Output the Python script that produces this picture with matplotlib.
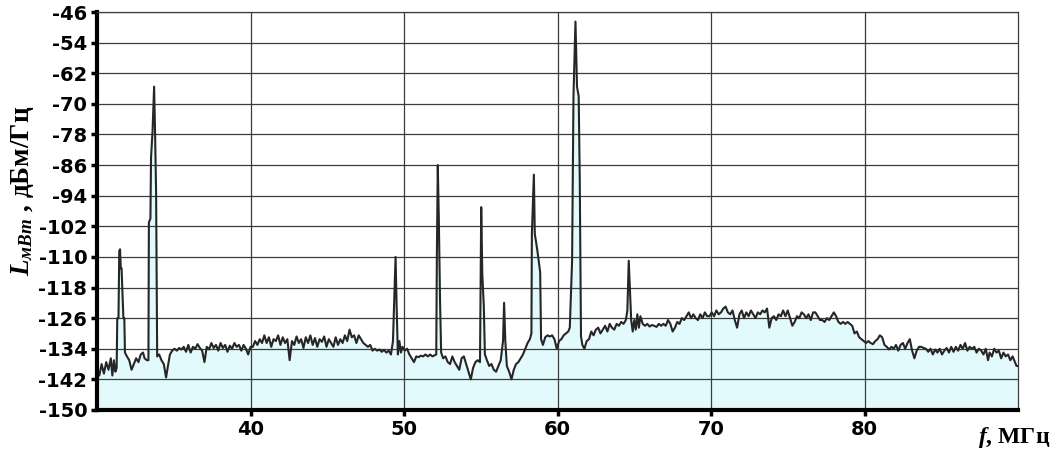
import matplotlib.pyplot as plt
import numpy as np

plt.rcParams['mathtext.fontset'] = 'custom'
plt.rcParams['mathtext.it'] = 'Liberation Serif:italic:bold'
plt.rcParams['mathtext.rm'] = 'Liberation Serif:bold'
plt.rcParams['axes.unicode_minus'] = False

# spectrum: frequency (MHz) and level (dBm/Hz)
freq = [
    30.0, 30.15, 30.3, 30.45, 30.6, 30.75, 30.9, 31.0, 31.1, 31.2, 31.28, 31.32, 31.4, 31.45, 31.5,
    31.55, 31.6, 31.72, 31.78, 31.82, 31.95, 32.1, 32.25, 32.4, 32.55, 32.7, 32.85, 33.0, 33.1, 33.25,
    33.35, 33.38, 33.48, 33.52, 33.62, 33.72, 33.78, 33.85, 33.92, 34.05, 34.2, 34.35, 34.5, 34.6, 34.75,
    34.9, 35.05, 35.2, 35.35, 35.5, 35.65, 35.8, 35.95, 36.1, 36.25, 36.4, 36.55, 36.7, 36.85, 37.0,
    37.15, 37.3, 37.45, 37.6, 37.75, 37.9, 38.05, 38.2, 38.35, 38.5, 38.65, 38.8, 38.95, 39.1, 39.25,
    39.4, 39.55, 39.7, 39.85, 40.0, 40.15, 40.3, 40.45, 40.6, 40.75, 40.9, 41.05, 41.2, 41.35, 41.5,
    41.65, 41.8, 41.95, 42.1, 42.25, 42.4, 42.55, 42.7, 42.85, 43.0, 43.15, 43.3, 43.45, 43.6, 43.75,
    43.9, 44.05, 44.2, 44.35, 44.5, 44.65, 44.8, 44.95, 45.1, 45.25, 45.4, 45.55, 45.7, 45.85, 46.0,
    46.15, 46.3, 46.45, 46.6, 46.75, 46.9, 47.05, 47.2, 47.35, 47.5, 47.65, 47.8, 47.95, 48.1, 48.25,
    48.4, 48.55, 48.7, 48.85, 49.0, 49.15, 49.28, 49.35, 49.45, 49.52, 49.6, 49.7, 49.8, 49.9, 50.05,
    50.2, 50.35, 50.5, 50.65, 50.8, 50.95, 51.1, 51.25, 51.4, 51.55, 51.7, 51.85, 52.1, 52.14, 52.2,
    52.27, 52.35, 52.42, 52.55, 52.7, 52.85, 53.0, 53.15, 53.3, 53.45, 53.6, 53.75, 53.9, 54.05, 54.2,
    54.35, 54.5, 54.65, 54.8, 54.95, 55.03, 55.1, 55.2, 55.27, 55.4, 55.55, 55.7, 55.85, 56.0, 56.15,
    56.3, 56.45, 56.52, 56.6, 56.7, 56.85, 57.0, 57.15, 57.3, 57.45, 57.6, 57.75, 57.9, 58.05, 58.2,
    58.3, 58.33, 58.46, 58.52, 58.6, 58.71, 58.87, 58.93, 59.05, 59.2, 59.35, 59.5, 59.65, 59.8, 59.95,
    60.1, 60.25, 60.4, 60.55, 60.7, 60.8, 60.95, 61.04, 61.17, 61.27, 61.38, 61.45, 61.53, 61.62, 61.75,
    61.9, 62.05, 62.2, 62.35, 62.5, 62.65, 62.8, 62.95, 63.1, 63.25, 63.4, 63.55, 63.7, 63.85, 64.0,
    64.15, 64.3, 64.45, 64.55, 64.64, 64.7, 64.8, 64.9, 65.0, 65.1, 65.2, 65.3, 65.4, 65.55, 65.7,
    65.85, 66.0, 66.15, 66.3, 66.45, 66.6, 66.75, 66.9, 67.05, 67.2, 67.35, 67.5, 67.65, 67.8, 67.95,
    68.1, 68.25, 68.4, 68.55, 68.7, 68.85, 69.0, 69.15, 69.3, 69.45, 69.6, 69.75, 69.9, 70.05, 70.2,
    70.35, 70.5, 70.65, 70.8, 70.95, 71.1, 71.25, 71.4, 71.55, 71.7, 71.85, 72.0, 72.15, 72.3, 72.45,
    72.6, 72.75, 72.9, 73.05, 73.2, 73.35, 73.5, 73.65, 73.8, 73.95, 74.1, 74.25, 74.4, 74.55, 74.7,
    74.85, 75.0, 75.15, 75.3, 75.45, 75.6, 75.75, 75.9, 76.05, 76.2, 76.35, 76.5, 76.65, 76.8, 76.95,
    77.1, 77.25, 77.4, 77.55, 77.7, 77.85, 78.0, 78.15, 78.3, 78.45, 78.6, 78.75, 78.9, 79.05, 79.2,
    79.35, 79.5, 79.65, 79.8, 79.95, 80.1, 80.25, 80.4, 80.55, 80.7, 80.85, 81.0, 81.15, 81.3, 81.45,
    81.6, 81.75, 81.9, 82.05, 82.2, 82.35, 82.5, 82.65, 82.8, 82.95, 83.1, 83.25, 83.4, 83.55, 83.7,
    83.85, 84.0, 84.15, 84.3, 84.45, 84.6, 84.75, 84.9, 85.05, 85.2, 85.35, 85.5, 85.65, 85.8, 85.95,
    86.1, 86.25, 86.4, 86.55, 86.7, 86.85, 87.0, 87.15, 87.3, 87.45, 87.6, 87.75, 87.9, 88.05, 88.15,
    88.3, 88.45, 88.6, 88.75, 88.9, 89.05, 89.2, 89.35, 89.5, 89.65, 89.8, 89.9, 90.0,
]
level = [
    -139.5, -141, -138, -140.5, -137.5, -139.5, -136.5, -141, -137, -140, -139, -126, -126, -108.5, -108,
    -113, -113, -126, -126, -135, -136, -137, -139.5, -138, -136.5, -137.5, -135.5, -135, -136.5, -137,
    -137, -101, -100, -84, -77, -65.5, -77, -93, -136, -135.5, -137, -138, -141.5, -139, -135.5,
    -134.5, -134, -134.5, -133.8, -134.2, -133.5, -134.8, -133, -135, -133.5, -134, -132.8, -133.8, -134.5, -137.5,
    -133.5, -134.2, -132.5, -133.8, -133, -134.5, -132.5, -133.8, -133, -134.8, -133.2, -134, -132.5, -133.5, -133,
    -134.5, -133, -134, -135.5, -133.5, -133.5, -132, -133, -131.5, -132.5, -130.5, -132.5, -131, -133.5, -131.5,
    -132, -130.5, -133, -131, -132.5, -131.5, -137, -132, -133, -130.8, -132.5, -131.5, -133.8, -131, -132.5,
    -130.5, -133, -131.2, -133.5, -131.5, -132.2, -130.8, -133.5, -131.5, -132.5, -133.5, -131, -133, -131.5, -132.5,
    -130.5, -132, -129, -131, -130.5, -132.5, -130.5, -131.5, -132.5, -133, -133.5, -133, -134.5, -134, -134.5,
    -134.2, -134.8, -134.3, -135, -134.5, -135.5, -132, -123, -110, -123, -135.5, -132, -135, -133.5, -134.5,
    -134, -135.5, -136.5, -137.5, -136, -136.2, -135.8, -136, -135.5, -136, -135.5, -136, -135.5, -110, -86,
    -100.5, -122, -135, -136.5, -136, -137.5, -138, -136, -137.5, -138.5, -139.5, -136.5, -136, -138, -140,
    -142, -139, -137.5, -137, -137.5, -97, -114.5, -123, -135.5, -137, -138.5, -138, -139.5, -140, -138.5,
    -137, -132, -122, -132, -138.5, -140, -142, -139.5, -138, -137.5, -136.5, -135.5, -134, -132.5, -131.5,
    -130, -104, -88.5, -104, -106, -109, -114, -131.5, -133, -131, -130.5, -130.8, -130.5, -131.5, -134,
    -132, -131.5, -130.5, -130, -129.5, -128.5, -111, -68, -48.5, -65.5, -68, -90, -130.8, -133, -134,
    -132, -131.5, -129.5, -130.5, -129, -128.5, -130, -129, -128, -129.5, -127.5, -128.5, -129, -127.5, -128,
    -127, -127.5, -126.5, -124, -111, -117, -126.5, -129.5, -126.5, -129, -125, -128.5, -125.5, -127.5, -128,
    -127.5, -128.2, -127.8, -128, -128.3, -127.5, -128, -127.5, -128, -126.5, -127.5, -129.5, -128.5, -127, -127.5,
    -126, -126.5, -125.5, -124.5, -126, -125, -126, -126.5, -125, -126, -124.5, -125.5, -125.5, -124.5, -125.5,
    -124, -125, -124.5, -123.5, -123, -124.5, -125, -124, -126.5, -128.5, -125, -124, -126, -124.5, -125.5,
    -124, -125, -126, -124.5, -125, -124, -124.5, -123.5, -128.5, -126, -125.5, -126.5, -125, -125.5, -124,
    -125.5, -124, -126, -128, -127, -125.5, -126, -124.5, -125, -126, -125, -126.5, -124.5, -124.5, -125.5,
    -126.5, -126.5, -127, -126, -126.5, -125.5, -124.5, -125.5, -127, -127.5, -127, -127.5, -127, -127.5, -128,
    -130, -129.5, -131, -131.5, -132, -132.5, -132, -132.5, -132.8, -132, -131.5, -130.5, -131, -133, -133.5,
    -134.2, -133.5, -134, -133, -134.5, -133, -132.5, -134, -132.5, -131.5, -134.5, -136.5, -134.5, -133.5, -133.5,
    -133.8, -134, -134.8, -134, -135.5, -134.2, -135, -134, -135.5, -134.5, -133.8, -135, -133.5, -134.8, -133.5,
    -134.5, -133, -134, -132.5, -134.5, -133.5, -134, -133.5, -135, -134, -134.5, -135.5, -134, -137, -135,
    -136, -134, -135, -134.5, -136.5, -135, -136, -135.5, -137, -136, -137.5, -138.5, -138.5,
]

y_ticks = list(range(-150, -45, 8))
x_ticks = [40, 50, 60, 70, 80]

fig = plt.figure(figsize=(10.59, 4.53), dpi=100)
ax = fig.add_axes([0.0916, 0.095, 0.8697, 0.8785])

ax.fill_between(freq, -150, level, color='#e2fafc', linewidth=0)
ax.plot(freq, level, color='#262626', linewidth=1.5)

ax.set_xlim(30, 90)
ax.set_ylim(-150, -46)
ax.set_xticks(x_ticks)
ax.set_yticks(y_ticks)
ax.grid(True, color='#3c3c3c', linewidth=0.9)

for lab in ax.get_xticklabels() + ax.get_yticklabels():
    lab.set_family('DejaVu Sans')
    lab.set_fontweight('bold')
    lab.set_fontsize(14)
ax.tick_params(axis='both', direction='out', length=4, width=2.5, color='black', pad=3)

for side in ['left', 'bottom']:
    ax.spines[side].set_linewidth(3)
    ax.spines[side].set_color('black')
for side in ['top', 'right']:
    ax.spines[side].set_linewidth(0.9)
    ax.spines[side].set_color('#3c3c3c')

ax.set_ylabel('$L_{мВт}$ , дБм/Гц', family='Liberation Serif', fontweight='bold', fontsize=19.5)
ax.yaxis.set_label_coords(-0.066, 0.55)
fig.text(978 / 1059, 1 - 437 / 453, '$f$, МГц', family='Liberation Serif', fontweight='bold',
         fontsize=17, ha='left', va='center')

plt.savefig('out.png', dpi=100)
plt.close()
